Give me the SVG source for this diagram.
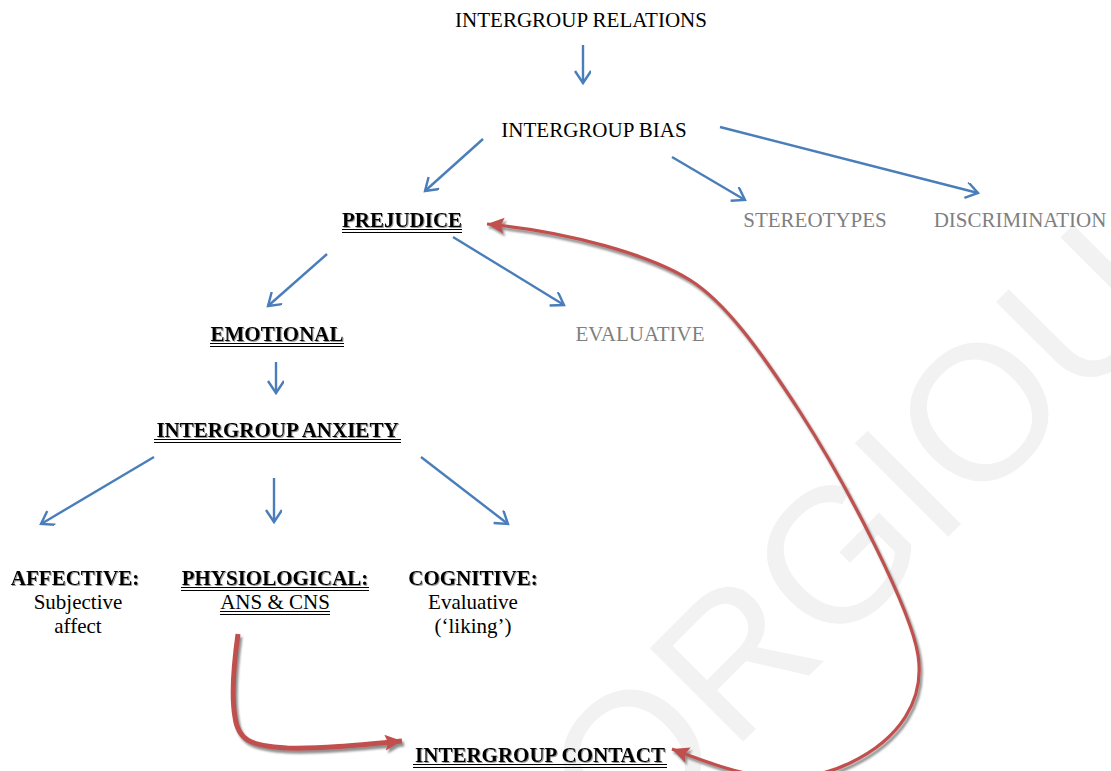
<svg xmlns="http://www.w3.org/2000/svg" width="1111" height="771" viewBox="0 0 1111 771">
<defs>
<style>
text{font-family:"Liberation Serif","Times New Roman",serif;font-size:21px;text-anchor:middle;fill:#000}
.b{font-weight:bold;filter:url(#tsh)}
.g{fill:#7f7f7f}
.ul{stroke:#000;stroke-width:1.1}
.blue{fill:none;stroke:#4a7ebb;stroke-width:2.4;marker-end:url(#open)}
.red{fill:none;stroke:#c0504d}
.wm{font-family:"Liberation Sans",Arial,sans-serif;font-size:192px;fill:#f2f2f2;text-anchor:start}
</style>
<marker id="open" markerUnits="userSpaceOnUse" markerWidth="20" markerHeight="20" viewBox="0 0 20 20" refX="14" refY="8" orient="auto">
<path d="M2,0 L14,8 L2,16" fill="none" stroke="#4a7ebb" stroke-width="2.4"/>
</marker>
<marker id="tri" markerUnits="userSpaceOnUse" markerWidth="22" markerHeight="22" viewBox="0 0 22 22" refX="17" refY="8" orient="auto">
<path d="M0,0 L17,8 L0,16 L3,8 Z" fill="#c0504d"/>
</marker>
<marker id="tris" markerUnits="userSpaceOnUse" markerWidth="22" markerHeight="22" viewBox="0 0 22 22" refX="17" refY="8" orient="auto-start-reverse">
<path d="M0,0 L17,8 L0,16 L3,8 Z" fill="#c0504d"/>
</marker>
<filter id="tsh" x="-10%" y="-20%" width="120%" height="150%">
<feDropShadow dx="1" dy="1" stdDeviation="0.4" flood-color="#555" flood-opacity="0.6"/>
</filter>
<filter id="rsh" filterUnits="userSpaceOnUse" x="0" y="0" width="1111" height="800">
<feDropShadow dx="2" dy="3" stdDeviation="0.9" flood-color="#909090" flood-opacity="1"/>
</filter>
</defs>
<rect width="1111" height="771" fill="#fff"/>
<g id="watermark">
<text class="wm" transform="rotate(-45)" x="-164" y="1050">ORGIOU</text>
</g>
<g id="connectors">
<line class="blue" x1="583" y1="45" x2="583" y2="83"/>
<line class="blue" x1="483" y1="139" x2="425" y2="191"/>
<line class="blue" x1="672" y1="157" x2="745" y2="200"/>
<line class="blue" x1="720" y1="127" x2="978" y2="193"/>
<line class="blue" x1="327" y1="254" x2="268" y2="306"/>
<line class="blue" x1="453" y1="237" x2="564" y2="305"/>
<line class="blue" x1="276" y1="362" x2="276" y2="393"/>
<line class="blue" x1="154" y1="457" x2="41" y2="524"/>
<line class="blue" x1="274" y1="478" x2="274" y2="522"/>
<line class="blue" x1="421" y1="457" x2="508" y2="524"/>
<g filter="url(#rsh)">
<path class="red" stroke-width="5" marker-end="url(#tri)" d="M238,634 C233,670 232,700 235,717 C238,740 250,746 287,748 C320,749 360,745 402,741"/>
<path class="red" stroke-width="3.2" marker-start="url(#tris)" marker-end="url(#tri)" d="M672,749 C740,775 790,792 850,763 C900,739 925,700 918,655 C911,610 850,490 800,412 C760,350 725,302 690,280 C650,255 570,232 487,224"/>
</g>
</g>
<g id="n-relations"><text x="581" y="27">INTERGROUP RELATIONS</text></g>
<g id="n-bias"><text x="594" y="137">INTERGROUP BIAS</text></g>
<g id="n-prejudice"><text class="b" x="402" y="227">PREJUDICE</text>
<line class="ul" x1="342" y1="229.5" x2="462" y2="229.5"/><line class="ul" x1="342" y1="232.5" x2="462" y2="232.5"/></g>
<g id="n-stereotypes"><text class="g" x="815" y="227">STEREOTYPES</text></g>
<g id="n-discrimination"><text class="g" x="1020" y="227">DISCRIMINATION</text></g>
<g id="n-emotional"><text class="b" x="277" y="341">EMOTIONAL</text>
<line class="ul" x1="210" y1="343.5" x2="344" y2="343.5"/><line class="ul" x1="210" y1="346.5" x2="344" y2="346.5"/></g>
<g id="n-evaluative"><text class="g" x="640" y="341">EVALUATIVE</text></g>
<g id="n-anxiety"><text class="b" x="277.5" y="437">INTERGROUP ANXIETY</text>
<line class="ul" x1="154" y1="439.5" x2="401" y2="439.5"/><line class="ul" x1="154" y1="442.5" x2="401" y2="442.5"/></g>
<g id="n-affective"><text class="b" x="75" y="585">AFFECTIVE:</text>
<text x="78" y="609">Subjective</text><text x="78" y="633">affect</text></g>
<g id="n-physiological"><text class="b" x="275" y="585">PHYSIOLOGICAL:</text>
<line class="ul" x1="181" y1="587.5" x2="369" y2="587.5"/><line class="ul" x1="181" y1="590.5" x2="369" y2="590.5"/>
<text x="275" y="609">ANS &amp; CNS</text>
<line class="ul" x1="220" y1="611.5" x2="330" y2="611.5"/><line class="ul" x1="220" y1="614.5" x2="330" y2="614.5"/></g>
<g id="n-cognitive"><text class="b" x="473" y="585">COGNITIVE:</text>
<text x="473" y="609">Evaluative</text><text x="473" y="633">(‘liking’)</text></g>
<g id="n-contact"><text class="b" x="540" y="762">INTERGROUP CONTACT</text>
<line class="ul" x1="413" y1="764.5" x2="667" y2="764.5"/><line class="ul" x1="413" y1="767.5" x2="667" y2="767.5"/></g>
</svg>
